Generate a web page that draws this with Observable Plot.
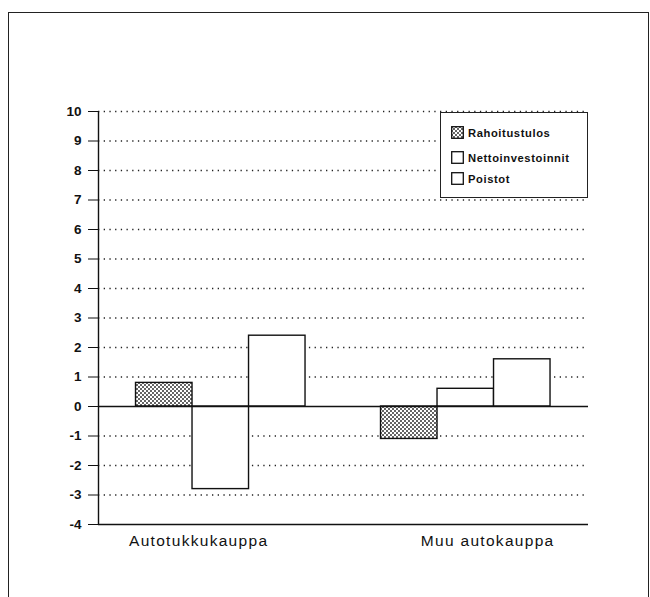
<!DOCTYPE html>
<html>
<head>
<meta charset="utf-8">
<script src="https://cdn.jsdelivr.net/npm/d3@7"></script>
<script src="https://cdn.jsdelivr.net/npm/@observablehq/plot@0.6"></script>
<style>
  html, body { margin: 0; padding: 0; background: #fff; overflow: hidden; }
  #wrap { position: relative; width: 650px; height: 597px; font-family: "Liberation Sans", Arial, Helvetica, sans-serif; }
  #border { position: absolute; left: 8px; top: 12px; width: 641px; height: 620px; border: 1.5px solid #222; box-sizing: border-box; }
  #chart { position: absolute; left: 0; top: 0; }
  #legend { position: absolute; left: 440px; top: 112px; width: 148px; height: 86px; box-sizing: border-box;
            border: 1.2px solid #222; background: #fff; }
  .item { position: absolute; left: 10px; display: flex; align-items: center; font-weight: bold; font-size: 11.2px;
          letter-spacing: 0.6px; color: #111; }
  .item svg { margin-right: 4px; }
</style>
</head>
<body>
<div id="wrap">
  <div id="border"></div>
  <div id="chart"></div>
  <div id="legend"></div>
</div>
<script>
// ---- data ----
const categories = ["Autotukkukauppa", "Muu autokauppa"];
const series = ["Rahoitustulos", "Nettoinvestoinnit", "Poistot"];
const rahoitustulos = [0.8, -1.1];
const nettoinvestoinnit = [-2.8, 0.6];
const poistot = [2.4, 1.6];
const yTicks = [-4, -3, -2, -1, 0, 1, 2, 3, 4, 5, 6, 7, 8, 9, 10];
const gridValues = [-3, -2, -1, 1, 2, 3, 4, 5, 6, 7, 8, 9, 10];

// ---- layout options (in bar-width units) ----
const groupStep = 4.336;
const outerPad = 0.664;
const xDomain = [-outerPad, categories.length * groupStep - outerPad];

const seriesValues = [rahoitustulos, nettoinvestoinnit, poistot];
const seriesFill = {"Rahoitustulos": "url(#dots)", "Nettoinvestoinnit": "white", "Poistot": "white"};

const rows = [];
categories.forEach((c, gi) => {
  series.forEach((s, si) => {
    rows.push({category: c, series: s, value: seriesValues[si][gi],
               x1: gi * groupStep + si, x2: gi * groupStep + si + 1});
  });
});
const catRows = categories.map((c, gi) => ({
  category: c, left: gi * groupStep, right: gi * groupStep + series.length
}));

const plot = Plot.plot({
  width: 650,
  height: 597,
  marginLeft: 98,
  marginRight: 62,
  marginTop: 111,
  marginBottom: 73,
  style: {fontFamily: "'Liberation Sans', Arial, Helvetica, sans-serif", fontSize: "13.5px", fontWeight: "bold", color: "#111", background: "transparent"},
  x: {type: "linear", domain: xDomain, axis: null},
  y: {domain: [-4, 10], ticks: yTicks, tickSize: 10, tickPadding: 7, tickFormat: d => String(d), label: null},
  color: {type: "identity"},
  marks: [
    Plot.ruleY(gridValues, {stroke: "#222", strokeWidth: 1.3, strokeDasharray: "1.3,4.4"}),
    Plot.rect(rows, {x1: "x1", x2: "x2", y1: d => 0, y2: "value",
                     fill: d => seriesFill[d.series], stroke: "#111", strokeWidth: 1.4}),
    Plot.ruleY([0], {stroke: "#111", strokeWidth: 1.4}),
    Plot.ruleY([-4], {stroke: "#111", strokeWidth: 1.4}),
    Plot.ruleX([xDomain[0]], {y1: -4, y2: 10, stroke: "#111", strokeWidth: 1.4}),
    Plot.text(catRows.slice(0, 1), {x: "left", y: -4, text: "category", textAnchor: "start", dx: -7, dy: 17,
                                    fontSize: 15.5, fontWeight: "normal", fill: "#111"}),
    Plot.text(catRows.slice(1), {x: "right", y: -4, text: "category", textAnchor: "end", dx: 4, dy: 17,
                                 fontSize: 15.5, fontWeight: "normal", fill: "#111"})
  ]
});

// dotted pattern for Rahoitustulos
const ns = "http://www.w3.org/2000/svg";
function addPattern(svg) {
  const defs = document.createElementNS(ns, "defs");
  defs.innerHTML = '<pattern id="dots" patternUnits="userSpaceOnUse" width="4" height="4">' +
    '<rect width="4" height="4" fill="#fff"/>' +
    '<circle cx="1" cy="1" r="0.95" fill="#222"/><circle cx="3" cy="3" r="0.95" fill="#222"/></pattern>';
  svg.insertBefore(defs, svg.firstChild);
}
addPattern(plot);
plot.querySelectorAll("text").forEach(t => {
  if (categories.includes(t.textContent)) {
    t.setAttribute("letter-spacing", "1.3");
    t.style.letterSpacing = "1.3px";
  }
});
document.getElementById("chart").appendChild(plot);

// legend
const legend = document.getElementById("legend");
const legendTops = [13, 38, 59];
series.forEach((s, i) => {
  const div = document.createElement("div");
  div.className = "item";
  div.style.top = legendTops[i] + "px";
  div.innerHTML = `<svg width="13" height="13"><rect x="0.7" y="0.7" width="11.6" height="11.6" fill="${seriesFill[s]}" stroke="#111" stroke-width="1.3"/></svg><span>${s}</span>`;
  legend.appendChild(div);
});
</script>
</body>
</html>
